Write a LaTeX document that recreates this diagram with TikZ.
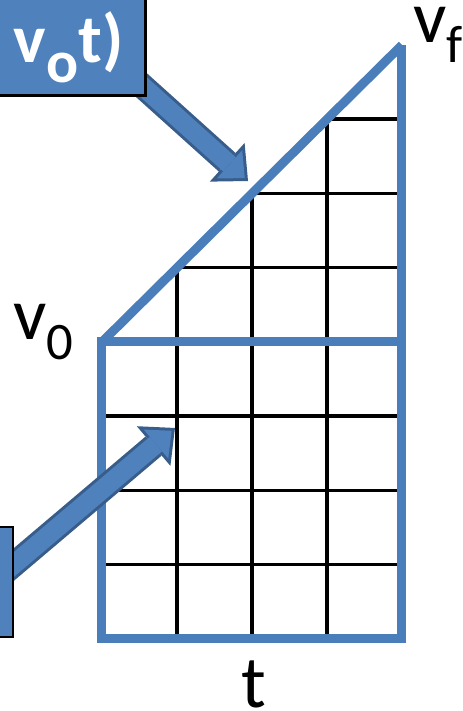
\documentclass[tikz,border=0pt]{standalone}
\usepackage{fontspec}
\setmainfont{Carlito}
\usetikzlibrary{arrows.meta}
\usepackage{xcolor}

\definecolor{lineblue}{RGB}{74,126,187}
\definecolor{boxblue}{RGB}{79,129,189}
\definecolor{arrowdark}{RGB}{56,93,138}

\begin{document}
\begin{tikzpicture}[
    x=1.5cm, y=1.485cm,
    grid line/.style={draw=black, line width=0.07cm},
    edge line/.style={draw=lineblue, line width=0.18cm},
    axis label/.style={inner sep=0pt, font=\fontsize{42}{45}\selectfont},
    box text/.style={inner sep=0pt, text=white, font=\fontsize{39}{42}\selectfont\bfseries},
    note box/.style={rectangle, fill=boxblue, draw=black, line width=0.05cm},
    block arrow/.style={
        preaction={draw=arrowdark, line width=0.5cm, shorten >=0pt,
            -{Triangle[length=0.56cm, width=1.04cm, line width=0pt]}},
        draw=boxblue, line width=0.38cm, shorten >=0.088cm,
        -{Triangle[length=0.41cm, width=0.76cm, line width=0pt]}}
]
    \useasboundingbox (-1.36,-0.970) rectangle (4.813,8.606);

    % Grid
    \foreach \k in {1,2,3} {
        \draw[grid line] (\k,0) -- (\k,4+\k);
        \draw[grid line] (0,\k) -- (4,\k);
        \draw[grid line] (\k,4+\k) -- (4,4+\k);
    }

    % Outline
    \draw[edge line] (0,0) rectangle (4,4);
    \draw[edge line] (0,4) -- (4,8);
    \draw[edge line] (4,4) -- (4,8);

    % Labels
    \node[axis label, anchor=base east] (vzero) at (-0.38,4.03)
        {v\raisebox{-0.4cm}{\fontsize{30}{31}\selectfont 0}};
    \node[axis label, anchor=base west] (vfinal) at (4.147,8.04)
        {v\raisebox{-0.4cm}{\fontsize{30}{31}\selectfont f}};
    \node[axis label, anchor=base] (time) at (2.02,-0.929) {t};

    % Arrows
    \coordinate (tail1) at (0.36,7.61);
    \coordinate (tip1) at (1.947,6.168);
    \coordinate (tail2) at (-1.467,0.754);
    \coordinate (tip2) at (0.973,2.842);
    \draw[block arrow] (tail1) -- (tip1);
    \draw[block arrow] (tail2) -- (tip2);

    % Boxes
    \node[note box, anchor=south east, minimum width=3cm, minimum height=2.4cm] (sumbox) at (0.6,7.30) {};
    \node[note box, anchor=south east, minimum width=1.2cm, minimum height=2.2cm] (lowbox) at (-1.173,0.013) {};
    \node[box text, anchor=base east] (sumtext) at (0.293,7.758)
        {v\raisebox{-0.4cm}{\fontsize{34}{36}\selectfont o}t)};
\end{tikzpicture}
\end{document}
